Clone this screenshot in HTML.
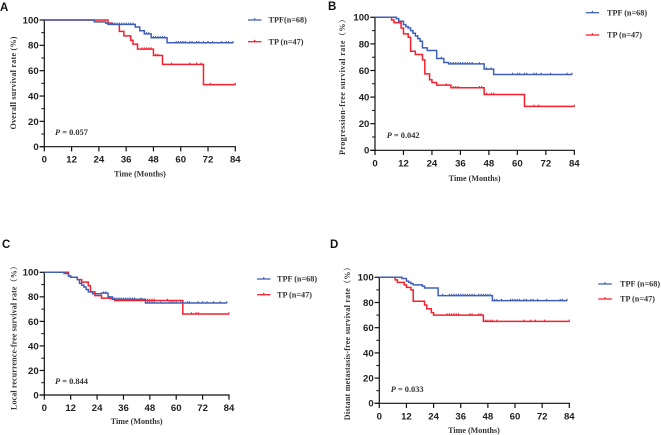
<!DOCTYPE html>
<html lang="en">
<head>
<meta charset="utf-8">
<title>Survival curves</title>
<style>
html,body{margin:0;padding:0;background:#fff;}
svg{display:block;filter:blur(0.35px);}
.tick{font:bold 9.6px "Liberation Sans",sans-serif;fill:#222;}
.title{font:bold 8.1px "Liberation Serif","Noto Serif CJK SC",serif;fill:#333;}
.leg{font:bold 8.2px "Liberation Serif",serif;fill:#333;}
.pval{font:bold 8.4px "Liberation Serif",serif;fill:#333;}
.letter{font:bold 11.5px "Liberation Sans",sans-serif;fill:#111;}
</style>
</head>
<body>
<svg id="chart" xmlns="http://www.w3.org/2000/svg" width="661" height="435" viewBox="0 0 661 435"></svg>
<script>
const xTicks = [0, 12, 24, 36, 48, 60, 72, 84];
const yTicks = [0, 20, 40, 60, 80, 100];
const yMinorTicks = [10, 30, 50, 70, 90];

const aTpfTimes = [0, 22, 27, 28, 40, 42, 44, 47, 54, 83];
const aTpfRates = [100, 98.5, 97.5, 96.5, 94.5, 91.5, 89, 86, 82, 82];
const aTpfCensors = [30, 31, 32, 33, 34, 35, 36, 37, 38, 39, 44, 45, 46, 48, 49, 50, 51, 52, 53, 58, 59, 60, 61, 62, 64, 65, 67, 68, 70, 72, 74, 78, 80, 81, 83];
const aTpTimes = [0, 28, 30, 33, 35, 38, 39, 41, 48, 52, 70, 84];
const aTpRates = [100, 97.5, 96.5, 91, 87.5, 84, 81, 77, 72, 65, 49, 49];
const aTpCensors = [43, 44, 45, 46, 47, 49, 50, 56, 64, 67, 69, 73, 84];

const bTpfTimes = [0, 9, 10, 12, 13, 14, 15, 16, 17, 18, 19, 20, 22, 26, 29, 31, 46, 50, 83];
const bTpfRates = [100, 99, 97, 94.5, 93, 92, 90, 88, 86, 84, 82, 77, 75, 69, 66, 65, 61, 57, 57];
const bTpfCensors = [28, 32, 33, 34, 35, 36, 37, 38, 39, 40, 41, 44, 47, 49, 58, 60, 61, 63, 64, 67, 68, 70, 74, 81, 83];
const bTpTimes = [0, 7, 8, 11, 12, 14, 15, 17, 20, 21, 23, 24, 26, 32, 46, 63, 84];
const bTpRates = [100, 98, 96, 92, 87.5, 85, 74.5, 72, 68, 57.5, 53, 51, 49, 47, 42, 33, 33];
const bTpCensors = [30, 33, 34, 35, 44, 45, 47, 49, 50, 67, 69, 84];

const cTpfTimes = [0, 9, 11, 12, 15, 16, 17, 18, 19, 20, 22, 26, 29, 31, 46, 83];
const cTpfRates = [100, 99, 97, 96, 94, 91, 89.5, 88, 86, 84, 82.5, 83, 80, 78, 75, 75];
const cTpfCensors = [27, 28, 32, 33, 34, 35, 36, 37, 38, 39, 40, 41, 44, 47, 48, 49, 50, 53, 57, 58, 59, 60, 62, 65, 66, 70, 72, 74, 77, 80, 83];
const cTpTimes = [0, 11, 12, 15, 17, 20, 21, 23, 26, 30, 32, 63, 84];
const cTpRates = [100, 97, 96, 94, 92, 89, 84, 81, 79, 78.5, 77, 66, 66];
const cTpCensors = [47, 48, 49, 50, 56, 67, 69, 70, 84];

const dTpfTimes = [0, 10, 12, 13, 14, 15, 19, 20, 26, 50, 83];
const dTpfRates = [100, 99, 97, 96, 95, 94, 93, 91.5, 85.5, 81.5, 81.5];
const dTpfCensors = [28, 31, 32, 33, 34, 35, 36, 37, 38, 39, 40, 41, 42, 44, 45, 46, 47, 48, 49, 51, 52, 54, 58, 59, 60, 61, 62, 64, 65, 67, 68, 70, 74, 80, 81, 83];
const dTpTimes = [0, 7, 8, 11, 12, 14, 15, 20, 21, 23, 24, 46, 84];
const dTpRates = [100, 98, 96, 94, 92, 90, 81, 78, 75, 72, 70, 65, 65];
const dTpCensors = [30, 31, 32, 33, 34, 35, 40, 41, 44, 45, 47, 48, 49, 50, 52, 64, 67, 69, 73, 84];

const BLUE = '#4060b8';
const RED = '#f6202e';
const NS = 'http://www.w3.org/2000/svg';
const root = document.getElementById('chart');

function make(parent, tag, attrs, text) {
  const el = document.createElementNS(NS, tag);
  for (const k in attrs) el.setAttribute(k, attrs[k]);
  if (text !== undefined) el.textContent = text;
  parent.appendChild(el);
  return el;
}

function drawSeries(g, times, rates, censors, color, xs, ys, name) {
  let d = 'M' + xs(times[0]) + ' ' + ys(rates[0]);
  for (let i = 1; i < times.length; i++) {
    d += 'H' + xs(times[i]) + 'V' + ys(rates[i]);
  }
  const line = make(g, 'path', {d: d, fill: 'none', stroke: color, 'stroke-width': 1.5});
  
  
  censors.forEach(function (t) {
    let r = rates[0];
    for (let i = 0; i < times.length; i++) if (times[i] <= t) r = rates[i];
    const mark = make(g, 'line', {x1: xs(t), x2: xs(t), y1: ys(r) - 1.8, y2: ys(r) + 0.4, stroke: color, 'stroke-width': 1.1});
    
    
  });
}

function drawPanel(p) {
  const g = make(root, 'g', {});
  
  
  const xs = function (t) { return p.x0 + (t / 84) * (p.x1 - p.x0); };
  const ys = function (v) { return p.y0 + (v / 100) * (p.y1 - p.y0); };

  const letter = make(g, 'text', {x: p.letter[0], y: p.letter[1], class: 'letter'}, p.id.toUpperCase());
  
  

  const yAxis = make(g, 'line', {x1: p.x0, x2: p.x0, y1: p.y1 - 0.6, y2: p.y0 + 0.6, stroke: '#111', 'stroke-width': 1.2});
  
  
  const xAxis = make(g, 'line', {x1: p.x0 - 4.7, x2: p.x1 + 0.6, y1: p.y0, y2: p.y0, stroke: '#111', 'stroke-width': 1.2});
  
  

  xTicks.forEach(function (t) {
    make(g, 'line', {x1: xs(t), x2: xs(t), y1: p.y0, y2: p.y0 + 4.7, stroke: '#111', 'stroke-width': 1.2});
    const lab = make(g, 'text', {x: xs(t), y: p.y0 + 16, 'text-anchor': 'middle', class: 'tick'}, t);
    
    
  });
  yTicks.forEach(function (v) {
    make(g, 'line', {x1: p.x0 - 4.7, x2: p.x0, y1: ys(v), y2: ys(v), stroke: '#111', 'stroke-width': 1.2});
    const lab = make(g, 'text', {x: p.x0 - 5.6, y: ys(v) + 3.4, 'text-anchor': 'end', class: 'tick'}, v);
    
    
  });
  yMinorTicks.forEach(function (v) {
    make(g, 'line', {x1: p.x0 - 3, x2: p.x0, y1: ys(v), y2: ys(v), stroke: '#111', 'stroke-width': 1});
  });

  const xt = make(g, 'text', {x: p.xTitle[0], y: p.xTitle[1], 'text-anchor': 'middle', class: 'title'}, 'Time (Months)');
  
  
  const yt = make(g, 'text', {x: 0, y: 0, 'text-anchor': 'middle', class: 'title', textLength: p.yTitleLen, lengthAdjust: 'spacing', transform: 'translate(' + p.yTitle[0] + ' ' + p.yTitle[1] + ') rotate(-90)'}, p.yLabel);
  
  

  const pv = make(g, 'text', {x: p.pPos[0], y: p.pPos[1], class: 'pval'});
  
  
  make(pv, 'tspan', {'font-style': 'italic'}, 'P');
  make(pv, 'tspan', {}, ' = ' + p.pValue);

  drawSeries(g, p.tp[0], p.tp[1], p.tp[2], RED, xs, ys, 'tp');
  drawSeries(g, p.tpf[0], p.tpf[1], p.tpf[2], BLUE, xs, ys, 'tpf');

  [[p.legTpf, BLUE, p.tpfLabel, 'legend-entry-tpf'], [p.legTp, RED, 'TP (n=47)', 'legend-entry-tp']].forEach(function (e) {
    const lg = make(g, 'g', {});
    
    
    make(lg, 'line', {x1: p.legX, x2: p.legX + 13.5, y1: e[0], y2: e[0], stroke: e[1], 'stroke-width': 1.3});
    make(lg, 'line', {x1: p.legX + 6.7, x2: p.legX + 6.7, y1: e[0] - 1.8, y2: e[0] + 0.5, stroke: e[1], 'stroke-width': 1.3});
    make(lg, 'text', {x: p.legTextX, y: e[0] + 2.6, class: 'leg'}, e[2]);
  });
}

drawPanel({id: 'a', x0: 44.3, x1: 235.3, y0: 146.7, y1: 20, letter: [0, 11], xTitle: [140, 176.5], yTitle: [16, 83], yTitleLen: 93,
  yLabel: 'Overall survival rate (%)', pPos: [55, 135], pValue: '0.057',
  tpf: [aTpfTimes, aTpfRates, aTpfCensors], tp: [aTpTimes, aTpRates, aTpCensors],
  legX: 248, legTextX: 268.5, legTpf: 20, legTp: 41.7, tpfLabel: 'TPF(n=68)'});
drawPanel({id: 'b', x0: 375, x1: 574.3, y0: 150.3, y1: 17.3, letter: [328, 10], xTitle: [474.7, 181], yTitle: [345, 85], yTitleLen: 140,
  yLabel: 'Progression-free survival rate（%）', pPos: [386.7, 138], pValue: '0.042',
  tpf: [bTpfTimes, bTpfRates, bTpfCensors], tp: [bTpTimes, bTpRates, bTpCensors],
  legX: 585.7, legTextX: 607, legTpf: 12.7, legTp: 35, tpfLabel: 'TPF (n=68)'});
drawPanel({id: 'c', x0: 44.3, x1: 229, y0: 395, y1: 272.3, letter: [2, 248], xTitle: [136.7, 424], yTitle: [16.5, 336], yTitleLen: 148,
  yLabel: 'Local recurrence-free survival rate（%）', pPos: [55, 384], pValue: '0.844',
  tpf: [cTpfTimes, cTpfRates, cTpfCensors], tp: [cTpTimes, cTpRates, cTpCensors],
  legX: 257, legTextX: 277, legTpf: 279, legTp: 294.7, tpfLabel: 'TPF (n=68)'});
drawPanel({id: 'd', x0: 379.3, x1: 569.3, y0: 403.3, y1: 277.3, letter: [330, 248], xTitle: [474, 433], yTitle: [350, 341.7], yTitleLen: 157,
  yLabel: 'Distant metastasis-free survival rate（%）', pPos: [390.7, 392], pValue: '0.033',
  tpf: [dTpfTimes, dTpfRates, dTpfCensors], tp: [dTpTimes, dTpRates, dTpCensors],
  legX: 598.3, legTextX: 620, legTpf: 284, legTp: 299, tpfLabel: 'TPF (n=68)'});
</script>
</body>
</html>
